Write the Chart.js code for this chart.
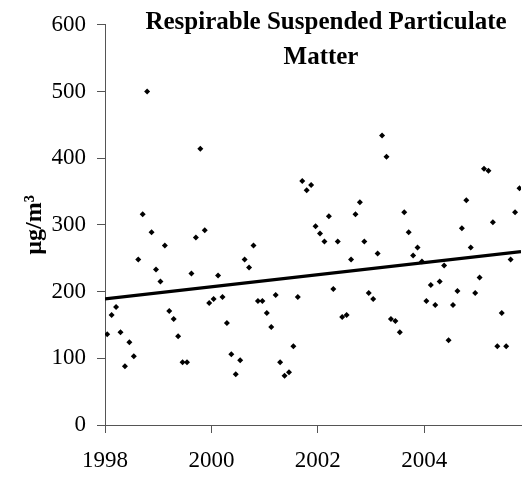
<!DOCTYPE html>
<html>
<head>
<meta charset="utf-8">
<script src="https://cdn.jsdelivr.net/npm/chart.js@4"></script>
<style>
html,body{margin:0;padding:0;background:#fff;}
#wrap{width:525px;height:481px;}
</style>
</head>
<body>
<div id="wrap"><canvas id="c" width="525" height="481"></canvas></div>
<script>
// ---- data ----
const months = [
  '1998-01','1998-02','1998-03','1998-04','1998-05','1998-06','1998-07','1998-08','1998-09','1998-10','1998-11','1998-12',
  '1999-01','1999-02','1999-03','1999-04','1999-05','1999-06','1999-07','1999-08','1999-09','1999-10','1999-11','1999-12',
  '2000-01','2000-02','2000-03','2000-04','2000-05','2000-06','2000-07','2000-08','2000-09','2000-10','2000-11','2000-12',
  '2001-01','2001-02','2001-03','2001-04','2001-05','2001-06','2001-07','2001-08','2001-09','2001-10','2001-11','2001-12',
  '2002-01','2002-02','2002-03','2002-04','2002-05','2002-06','2002-07','2002-08','2002-09','2002-10','2002-11','2002-12',
  '2003-01','2003-02','2003-03','2003-04','2003-05','2003-06','2003-07','2003-08','2003-09','2003-10','2003-11','2003-12',
  '2004-01','2004-02','2004-03','2004-04','2004-05','2004-06','2004-07','2004-08','2004-09','2004-10','2004-11','2004-12',
  '2005-01','2005-02','2005-03','2005-04','2005-05','2005-06','2005-07','2005-08','2005-09','2005-10'
];
const rspm = [
  136,165,177,139,88,124,103,248,316,500,289,233,
  215,269,171,159,133,94,94,227,281,414,292,183,
  189,224,192,153,106,76,97,248,236,269,186,186,
  168,147,195,94,74,79,118,192,366,352,360,298,
  287,275,313,204,275,162,165,248,316,334,275,198,
  189,257,434,402,159,156,139,319,289,254,266,245,
  186,210,180,215,239,127,180,201,295,337,266,198,
  221,384,381,304,118,168,118,248,319,355
];
const trendYears = [1998, 2005.82];
const trendValues = [189, 260];
const xTickYears = [1998, 2000, 2002, 2004];
const yTickValues = [0, 100, 200, 300, 400, 500, 600];
const titleLines = ['Respirable Suspended Particulate', 'Matter'];
const yAxisTitle = 'µg/m³';

// ---- build datasets ----
const toYear = s => { const [y, m] = s.split('-').map(Number); return y + (m - 0.5) / 12; };
const points = months.map((m, i) => ({ x: toYear(m), y: rspm[i] }));
const trend = trendYears.map((x, i) => ({ x, y: trendValues[i] }));

const FONT = '"Liberation Serif", "Times New Roman", serif';

const innerTitle = {
  id: 'innerTitle',
  afterDraw(chart) {
    const ctx = chart.ctx;
    ctx.save();
    ctx.fillStyle = '#000';
    ctx.font = 'bold 25px ' + FONT;
    ctx.textAlign = 'center';
    ctx.textBaseline = 'middle';
    ctx.fillText(titleLines[0], 326, 23);
    ctx.fillText(titleLines[1], 321, 58);
    ctx.restore();
  }
};

new Chart(document.getElementById('c'), {
  type: 'scatter',
  data: {
    datasets: [
      {
        label: 'RSPM',
        data: points,
        pointStyle: 'rectRot',
        pointRadius: 3,
        pointBackgroundColor: '#000',
        pointBorderColor: '#000',
        pointBorderWidth: 0,
        showLine: false,
        order: 2
      },
      {
        label: 'Trend',
        data: trend,
        type: 'line',
        borderColor: '#000',
        borderWidth: 3.2,
        pointRadius: 0,
        fill: false,
        order: 1
      }
    ]
  },
  options: {
    responsive: false,
    animation: false,
    devicePixelRatio: 1,
    layout: { padding: { top: 20, right: 0, left: 0, bottom: 0 } },
    plugins: { legend: { display: false }, tooltip: { enabled: false } },
    scales: {
      x: {
        type: 'linear',
        min: 1998,
        max: 2005.82,
        afterBuildTicks: s => { s.ticks = xTickYears.map(v => ({ value: v })); },
        afterFit: s => { s.height = 56; },
        ticks: {
          color: '#000', font: { family: FONT, size: 23 }, padding: 14, maxRotation: 0, autoSkip: false,
          callback: v => String(v)
        },
        grid: { drawOnChartArea: false, drawTicks: true, tickLength: 8, color: '#555' },
        border: { color: '#555', width: 1 }
      },
      y: {
        min: 0,
        max: 600,
        afterBuildTicks: s => { s.ticks = yTickValues.map(v => ({ value: v })); },
        afterFit: s => { s.width = 105; },
        ticks: { color: '#000', font: { family: FONT, size: 23 }, padding: 11, callback: v => String(v) },
        grid: { drawOnChartArea: false, drawTicks: true, tickLength: 8, color: '#555' },
        border: { color: '#555', width: 1 },
        title: {
          display: true,
          text: yAxisTitle,
          color: '#000',
          font: { family: FONT, size: 24, weight: 'bold' },
          padding: { top: 20, bottom: 0 }
        }
      }
    }
  },
  plugins: [innerTitle]
});
</script>
</body>
</html>
